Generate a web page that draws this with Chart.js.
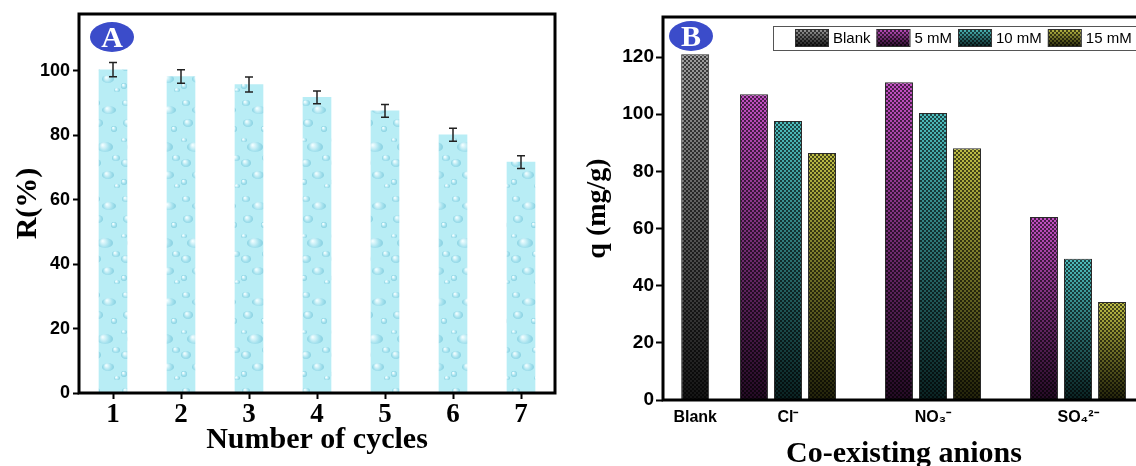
<!DOCTYPE html>
<html>
<head>
<meta charset="utf-8">
<script src="https://cdn.jsdelivr.net/npm/chart.js@4.4.1/dist/chart.umd.min.js"></script>
<style>
  html, body { margin: 0; padding: 0; background: #fff; overflow: hidden; width: 1136px; height: 466px; }
  #a { position: absolute; left: 0; top: 0; }
  #b { position: absolute; left: 580px; top: 0; }
</style>
</head>
<body>
<canvas id="a" width="570" height="466"></canvas>
<canvas id="b" width="565" height="466"></canvas>
<script>
// Panel A: removal over reuse cycles
var cycles = ['1', '2', '3', '4', '5', '6', '7'];
var removal = [100.4, 98.3, 95.8, 91.8, 87.6, 80.2, 71.7];
var removalErr = [2.2, 2.1, 2.3, 2.0, 2.0, 2.0, 2.0];
var removalTicks = [0, 20, 40, 60, 80, 100];

// Panel B: effect of co-existing anions
var anions = ['Blank', 'Cl\u207B', 'NO\u2083\u207B', 'SO\u2084\u00B2\u207B'];
var anionX = [0.36, 1, 2, 3];
var seriesNames = ['Blank', '5 mM', '10 mM', '15 mM'];
var qBlank = [121, null, null, null];
var q5 = [null, 107, 111.2, 64];
var q10 = [null, 97.6, 100.4, 49.4];
var q15 = [null, 86.4, 88.1, 34.3];
var qTicks = [0, 20, 40, 60, 80, 100, 120];

Chart.defaults.font.family = 'Liberation Sans';
Chart.defaults.color = '#000';

// water drop texture for panel A bars
function waterPattern(ctx) {
  var c = document.createElement('canvas');
  c.width = 30; c.height = 96;
  var g = c.getContext('2d');
  g.fillStyle = '#b8edf5';
  g.fillRect(0, 0, 30, 96);
  var drops = [[6, 7, 4, 3], [19, 14, 7, 4], [8, 27, 5, 4], [24, 33, 3, 3], [4, 44, 3, 2],
               [15, 51, 8, 5], [26, 62, 4, 3], [6, 67, 5, 4], [18, 79, 6, 4], [4, 86, 3, 3], [27, 90, 3, 2]];
  drops.forEach(function (d) {
    var rg = g.createRadialGradient(d[0] - d[2] * 0.3, d[1] - d[3] * 0.4, 0.5, d[0], d[1], d[2]);
    rg.addColorStop(0, '#effdff');
    rg.addColorStop(0.6, '#a6e2ee');
    rg.addColorStop(1, '#86cfe0');
    g.fillStyle = rg;
    g.beginPath();
    g.ellipse(d[0], d[1], d[2], d[3], 0, 0, Math.PI * 2);
    g.fill();
  });
  return ctx.createPattern(c, 'repeat');
}

// checkered fill with a top-to-bottom fade, as in panel B
function checkerFill(ctx, topColor, bottomColor, y0, y1) {
  if (!isFinite(y0) || !isFinite(y1) || y1 <= y0) return bottomColor;
  var h = Math.ceil(y1) + 2;
  var c = document.createElement('canvas');
  c.width = 4; c.height = h;
  var g = c.getContext('2d');
  var lg = g.createLinearGradient(0, y0, 0, y1);
  lg.addColorStop(0, topColor);
  lg.addColorStop(1, bottomColor);
  g.fillStyle = lg;
  g.fillRect(0, 0, 4, h);
  g.fillStyle = 'rgba(0,0,0,0.62)';
  for (var y = 0; y < h; y += 2) {
    g.fillRect((y / 2) % 2 ? 2 : 0, y, 2, 2);
  }
  return ctx.createPattern(c, 'repeat-x');
}

function barFill(topColor, bottomColor) {
  return function (c) {
    if (c.type !== 'data' || !c.parsed || c.parsed.y == null) return bottomColor;
    var y = c.chart.scales.y;
    if (!y) return bottomColor;
    return checkerFill(c.chart.ctx, topColor, bottomColor, y.getPixelForValue(c.parsed.y), y.getPixelForValue(0));
  };
}

var frame = {
  id: 'frame',
  afterDraw: function (chart) {
    var a = chart.chartArea, g = chart.ctx;
    g.save();
    g.strokeStyle = '#000';
    g.lineWidth = 3;
    g.strokeRect(a.left, a.top, a.right - a.left, a.bottom - a.top);
    g.restore();
  }
};

function badge(letter, dx, dy) {
  return {
    id: 'badge',
    afterDraw: function (chart) {
      var a = chart.chartArea, g = chart.ctx;
      var cx = a.left + dx, cy = a.top + dy;
      g.save();
      g.fillStyle = '#3b4cca';
      g.beginPath();
      g.ellipse(cx, cy, 22, 15, 0, 0, Math.PI * 2);
      g.fill();
      g.fillStyle = '#fff';
      g.font = 'bold 30px "Liberation Serif"';
      g.textAlign = 'center';
      g.textBaseline = 'middle';
      g.fillText(letter, cx, cy + 2);
      g.restore();
    }
  };
}

var errorBars = {
  id: 'errorBars',
  afterDatasetsDraw: function (chart) {
    var meta = chart.getDatasetMeta(0), y = chart.scales.y, g = chart.ctx;
    g.save();
    g.strokeStyle = '#222';
    g.lineWidth = 1.5;
    meta.data.forEach(function (bar, i) {
      var hi = y.getPixelForValue(removal[i] + removalErr[i]);
      var lo = y.getPixelForValue(removal[i] - removalErr[i]);
      g.beginPath();
      g.moveTo(bar.x, hi); g.lineTo(bar.x, lo);
      g.moveTo(bar.x - 4, hi); g.lineTo(bar.x + 4, hi);
      g.moveTo(bar.x - 4, lo); g.lineTo(bar.x + 4, lo);
      g.stroke();
    });
    g.restore();
  }
};

// legend drawn in a framed box inside the plot, like the original
var boxLegend = {
  id: 'boxLegend',
  afterDraw: function (chart) {
    var g = chart.ctx, a = chart.chartArea;
    var left = a.left + 110, top = 26, h = 24;
    g.save();
    g.fillStyle = '#fff';
    g.fillRect(left, top, a.right - 5 - left, h);
    g.strokeStyle = '#555';
    g.lineWidth = 1;
    g.strokeRect(left + 0.5, top + 0.5, a.right - 5 - left, h);
    g.font = '15px "Liberation Sans"';
    g.textBaseline = 'middle';
    g.textAlign = 'left';
    var x = left + 22;
    chart.data.datasets.forEach(function (ds) {
      g.fillStyle = checkerFill(g, ds.fadeTop, ds.fadeBottom, top + 3, top + h - 3);
      g.fillRect(x, top + 3, 33, h - 6);
      g.strokeStyle = '#333';
      g.strokeRect(x + 0.5, top + 3.5, 33, h - 7);
      g.fillStyle = '#000';
      g.fillText(ds.label, x + 38, top + h / 2 + 1);
      x += 38 + g.measureText(ds.label).width + 6;
    });
    g.restore();
  }
};

var tickGrid = { drawOnChartArea: false, tickLength: 6, tickWidth: 2, tickColor: '#000' };

// ---------- Panel A ----------
var ctxA = document.getElementById('a').getContext('2d');
new Chart(ctxA, {
  type: 'bar',
  data: {
    labels: cycles,
    datasets: [{
      label: 'R(%)',
      data: removal,
      backgroundColor: waterPattern(ctxA),
      borderWidth: 0,
      barThickness: 28
    }]
  },
  options: {
    responsive: false,
    animation: false,
    layout: { padding: { top: 14, right: 15, left: 0, bottom: 0 } },
    plugins: { legend: { display: false }, tooltip: { enabled: false } },
    scales: {
      x: {
        offset: true,
        grid: Object.assign({ offset: false }, tickGrid),
        border: { display: false },
        ticks: { maxRotation: 0, padding: 0, font: { family: 'Liberation Serif', weight: 'bold', size: 27 } },
        title: { display: true, text: 'Number of cycles', padding: { top: 0, bottom: 11 },
                 font: { family: 'Liberation Serif', weight: 'bold', size: 30, lineHeight: 1 } },
        afterFit: function (s) { s.height = 73; }
      },
      y: {
        min: 0,
        max: 117.7,
        afterBuildTicks: function (s) { s.ticks = removalTicks.map(function (v) { return { value: v }; }); },
        grid: tickGrid,
        border: { display: false },
        ticks: { padding: 3, font: { weight: 'bold', size: 18 } },
        title: { display: true, text: 'R(%)', padding: { top: 13 },
                 font: { family: 'Liberation Serif', weight: 'bold', size: 30, lineHeight: 1 } },
        afterFit: function (s) { s.width = 79; }
      }
    }
  },
  plugins: [errorBars, frame, badge('A', 33, 23)]
});

// ---------- Panel B ----------
var fades = [['#9e9e9e', '#141414'], ['#c450c4', '#240a24'], ['#4ebebe', '#0a2222'], ['#bebe46', '#22220a']];
var qSeries = [qBlank, q5, q10, q15];
var ctxB = document.getElementById('b').getContext('2d');
new Chart(ctxB, {
  type: 'bar',
  data: {
    datasets: seriesNames.map(function (name, k) {
      return {
        label: name,
        data: qSeries[k].map(function (v, i) { return { x: anionX[i], y: v }; }),
        fadeTop: fades[k][0],
        fadeBottom: fades[k][1],
        backgroundColor: barFill(fades[k][0], fades[k][1]),
        borderColor: '#2a2a2a',
        borderWidth: 1,
        skipNull: true,
        categoryPercentage: 1.1,
        barPercentage: 0.83,
        maxBarThickness: 28
      };
    })
  },
  options: {
    responsive: false,
    animation: false,
    layout: { padding: { top: 17, right: 0, left: 0, bottom: 0 } },
    plugins: { legend: { display: false }, tooltip: { enabled: false } },
    scales: {
      x: {
        type: 'linear',
        offset: false,
        min: 0.138,
        max: 3.462,
        afterBuildTicks: function (s) { s.ticks = anionX.map(function (v) { return { value: v }; }); },
        grid: { display: false, offset: false },
        border: { display: false },
        ticks: { autoSkip: false, maxRotation: 0, padding: 0, font: { weight: 'bold', size: 16 },
                 callback: function (v, i) { return anions[i]; } },
        title: { display: true, text: 'Co-existing anions', padding: { top: 0, bottom: -3 },
                 font: { family: 'Liberation Serif', weight: 'bold', size: 30, lineHeight: 1 } },
        afterFit: function (s) { s.height = 66; }
      },
      y: {
        min: 0,
        max: 134,
        afterBuildTicks: function (s) { s.ticks = qTicks.map(function (v) { return { value: v }; }); },
        grid: { drawOnChartArea: false, tickLength: 7, tickWidth: 2, tickColor: '#000' },
        border: { display: false },
        ticks: { padding: 2, font: { weight: 'bold', size: 19 } },
        title: { display: true, text: 'q (mg/g)', padding: { top: 4 },
                 font: { family: 'Liberation Serif', weight: 'bold', size: 28, lineHeight: 1 } },
        afterFit: function (s) { s.width = 83; }
      }
    }
  },
  plugins: [frame, badge('B', 28, 19), boxLegend]
});
</script>
</body>
</html>
